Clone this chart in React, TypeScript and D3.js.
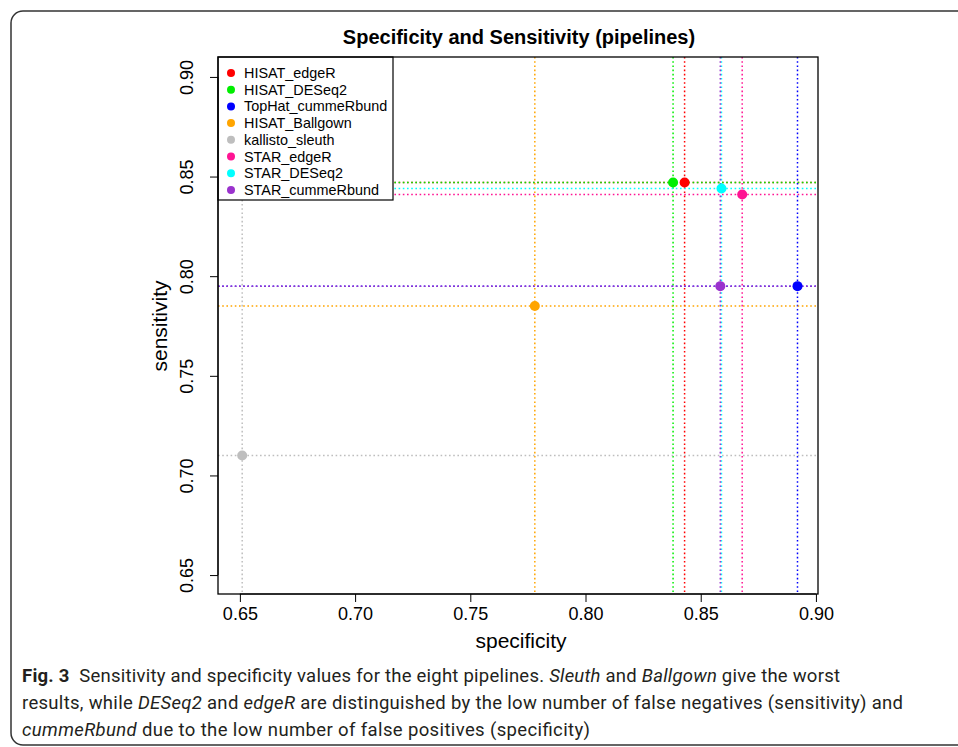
import React, { useEffect, useRef } from 'react';
import * as d3 from 'd3';

const pipelines = [
  'HISAT_edgeR',
  'HISAT_DESeq2',
  'TopHat_cummeRbund',
  'HISAT_Ballgown',
  'kallisto_sleuth',
  'STAR_edgeR',
  'STAR_DESeq2',
  'STAR_cummeRbund',
];
const specificity = [0.843, 0.838, 0.892, 0.778, 0.651, 0.868, 0.859, 0.8585];
const sensitivity = [0.847, 0.847, 0.795, 0.785, 0.71, 0.841, 0.844, 0.795];
const colors = ['#ff0000', '#00ee00', '#0000ff', '#ffa500', '#bebebe', '#ff1493', '#00ffff', '#9a32cd'];
const xTicks = [0.65, 0.7, 0.75, 0.8, 0.85, 0.9];
const yTicks = [0.65, 0.7, 0.75, 0.8, 0.85, 0.9];

const captionLines = [
  [
    { t: 'Fig. 3', b: true },
    { t: '  Sensitivity and specificity values for the eight pipelines. ' },
    { t: 'Sleuth', i: true },
    { t: ' and ' },
    { t: 'Ballgown', i: true },
    { t: ' give the worst' },
  ],
  [
    { t: 'results, while ' },
    { t: 'DESeq2', i: true },
    { t: ' and ' },
    { t: 'edgeR', i: true },
    { t: ' are distinguished by the low number of false negatives (sensitivity) and' },
  ],
  [
    { t: 'cummeRbund', i: true },
    { t: ' due to the low number of false positives (specificity)' },
  ],
];
const captionWidths = [818, 881, 568];

const font = 'Liberation Sans, Arial, Helvetica, sans-serif';

const App = () => {
  const xAxisRef = useRef<SVGGElement>(null);
  const yAxisRef = useRef<SVGGElement>(null);

  // plot region (R style box)
  const left = 218, right = 818, top = 57, bottom = 594;
  const x = d3.scaleLinear().domain([0.6405, 0.9009]).range([left, right]);
  const y = d3.scaleLinear().domain([0.6405, 0.91]).range([bottom, top]);

  useEffect(() => {
    const gx = d3.select(xAxisRef.current);
    gx.selectAll('*').remove();
    gx.call(d3.axisBottom(x).tickValues(xTicks).tickFormat(d3.format('.2f')).tickSize(8).tickPadding(5).tickSizeOuter(0));
    gx.select('.domain').attr('d', `M${x(xTicks[0])},0H${x(xTicks[xTicks.length - 1])}`);
    gx.selectAll('text').attr('font-size', 18).attr('font-family', font).attr('fill', '#000');
    gx.selectAll('line, path').attr('stroke', '#000');

    const gy = d3.select(yAxisRef.current);
    gy.selectAll('*').remove();
    gy.call(d3.axisLeft(y).tickValues(yTicks).tickFormat(d3.format('.2f')).tickSize(8).tickSizeOuter(0));
    gy.select('.domain').attr('d', `M0,${y(yTicks[0])}V${y(yTicks[yTicks.length - 1])}`);
    gy.selectAll('.tick text')
      .attr('font-size', 18)
      .attr('font-family', font)
      .attr('fill', '#000')
      .attr('x', null)
      .attr('dy', null)
      .attr('text-anchor', 'middle')
      .attr('transform', 'translate(-25,0) rotate(-90)');
    gy.selectAll('line, path').attr('stroke', '#000');
  }, []);

  const dash = '1.6 2.6';

  return (
    <svg width={958} height={747} style={{ position: 'absolute', left: 0, top: 0, background: '#fff' }}>
      <rect x={11} y={11} width={1000} height={734} rx={12} fill="#fff" stroke="#333" strokeWidth={1.5} />

      <text x={519} y={44} textAnchor="middle" fontFamily={font} fontWeight="bold" fontSize={20}>
        Specificity and Sensitivity (pipelines)
      </text>

      {/* guide lines */}
      <g strokeWidth={1.5} strokeDasharray={dash}>
        {pipelines.map((p, i) => (
          <g key={p} stroke={colors[i]}>
            <line x1={x(specificity[i])} x2={x(specificity[i])} y1={top} y2={bottom} />
            <line x1={left} x2={right} y1={y(sensitivity[i])} y2={y(sensitivity[i])} />
          </g>
        ))}
      </g>

      {pipelines.map((p, i) => (
        <circle key={p} cx={x(specificity[i])} cy={y(sensitivity[i])} r={5} fill={colors[i]} />
      ))}

      {/* legend */}
      <g>
        <rect x={left} y={top} width={175} height={143} fill="#fff" stroke="#000" strokeWidth={1.2} />
        {pipelines.map((p, i) => (
          <g key={p} transform={`translate(${left},${top + 16 + i * 16.7})`}>
            <circle cx={13} cy={0} r={4} fill={colors[i]} />
            <text x={26} y={5} fontFamily={font} fontSize={14.4}>{p}</text>
          </g>
        ))}
      </g>

      <rect x={left} y={top} width={right - left} height={bottom - top} fill="none" stroke="#000" strokeWidth={1.3} />
      <g ref={xAxisRef} transform={`translate(0,${bottom})`} />
      <g ref={yAxisRef} transform={`translate(${left},0)`} />

      <text x={521} y={648} textAnchor="middle" fontFamily={font} fontSize={21}>specificity</text>
      <text transform="translate(167,326) rotate(-90)" textAnchor="middle" fontFamily={font} fontSize={21}>sensitivity</text>

      {captionLines.map((line, li) => (
        <text
          key={li}
          x={22}
          y={682 + li * 27}
          fontFamily="Roboto, sans-serif"
          fontSize={18.5}
          fill="#231f20"
          textLength={captionWidths[li]}
          lengthAdjust="spacing"
        >
          {line.map((s: any, si) => (
            <tspan key={si} fontWeight={s.b ? 'bold' : 'normal'} fontStyle={s.i ? 'italic' : 'normal'} style={{ whiteSpace: 'pre' }}>
              {s.t}
            </tspan>
          ))}
        </text>
      ))}
    </svg>
  );
};

export default App;
